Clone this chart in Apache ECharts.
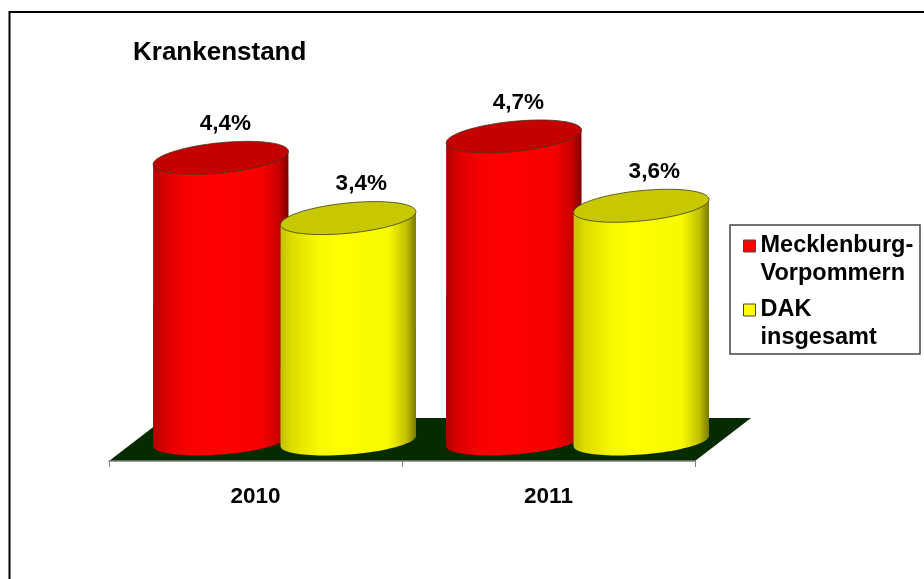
<!DOCTYPE html>
<html><head><meta charset="utf-8">
<style>html,body{margin:0;padding:0;background:#fff}#c{width:924px;height:579px}</style>
<script src="https://cdn.jsdelivr.net/npm/echarts@6/dist/echarts.min.js"></script>
</head><body><div id="c"></div>
<script>
const categories = ['2010', '2011'];
const mvValues = [4.37, 4.70];
const dakValues = [3.44, 3.63];
const seriesNames = ['Mecklenburg-\nVorpommern', 'DAK\ninsgesamt'];
const titleText = 'Krankenstand';

const FONT = '"Liberation Sans", Arial, sans-serif';
const chart = echarts.init(document.getElementById('c'), null, {renderer: 'canvas'});

function ellipseHalf(cx, cy, a, b, deg, start) {
  const th = deg * Math.PI / 180, pts = [];
  const t0 = Math.atan2(b * Math.sin(th), a * Math.cos(th)) + start;
  for (let i = 0; i <= 48; i++) {
    const t = t0 + Math.PI * i / 48;
    pts.push([
      cx + a * Math.cos(t) * Math.cos(th) + b * Math.sin(t) * Math.sin(th),
      cy - a * Math.cos(t) * Math.sin(th) + b * Math.sin(t) * Math.cos(th)
    ]);
  }
  return pts;
}

function cylinderSeries(name, values, opt) {
  return {
    type: 'custom', name, data: values.map((v, i) => [i, v]),
    encode: {x: 0, y: 1}, itemStyle: {color: opt.legend}, z: opt.z,
    renderItem(params, api) {
      const idx = api.value(0), val = api.value(1);
      const band = api.size([1, 0])[0];
      const c = api.coord([idx, val]), base = api.coord([idx, 0]);
      const depth = band * 0.0956;
      const cx = c[0] + depth + band * opt.shift;
      const a = band * 0.232;
      const lower = ellipseHalf(cx, base[1], a, 13.5, 4.5, 0);
      const top1 = ellipseHalf(cx, c[1], a, 15.1, 5.74, 0);
      const top2 = ellipseHalf(cx, c[1], a, 15.1, 5.74, Math.PI);
      const body = lower.concat([top1[48], top1[0]]);
      return {type: 'group', children: [
        {type: 'polygon', shape: {points: body}, style: {
          fill: {type: 'linear', x: 0, y: 0, x2: 1, y2: 0, colorStops: opt.stops},
          stroke: null}},
        {type: 'polygon', shape: {points: top1.concat(top2)},
          style: {fill: opt.top, stroke: '#3a3a20', lineWidth: 0.8}},
        {type: 'text', x: cx + opt.labelDx, y: c[1] - 34, style: {
          text: val.toFixed(1).replace('.', ',') + '%',
          font: 'bold 22.5px ' + FONT, fill: '#000',
          align: 'center', verticalAlign: 'middle'}}
      ]};
    }
  };
}

const floorSeries = {
  type: 'custom', name: 'floor', data: [[0, 0]], encode: {x: 0, y: 1}, z: 1, silent: true,
  renderItem(params) {
    const g = params.coordSys, r = g.x + g.width, b = g.y + g.height;
    const depth = 56, front = b + 20, back = b - 23;
    return {type: 'polygon', shape: {points: [[g.x, front], [r, front], [r + depth, back], [g.x + depth, back]]},
      style: {fill: '#062b00'}};
  }
};

chart.setOption({
  animation: false,
  backgroundColor: '#fff',
  title: {text: titleText, left: 128, top: 35,
    textStyle: {fontFamily: FONT, fontWeight: 'bold', fontSize: 26, color: '#000'}},
  grid: {left: 109, width: 586, top: 117, height: 324, containLabel: false},
  xAxis: {type: 'category', data: categories, offset: 20, z: 5,
    axisLine: {show: true, onZero: false, lineStyle: {color: '#808080', width: 1.5}},
    axisTick: {show: true, length: 6, lineStyle: {color: '#808080', width: 1}},
    axisLabel: {margin: 24, fontFamily: FONT, fontWeight: 'bold', fontSize: 22.5, color: '#000'},
    splitLine: {show: false}},
  yAxis: {type: 'value', min: 0, max: 5, show: false},
  legend: {
    data: seriesNames, left: 743, top: 204, orient: 'vertical',
    padding: 0, itemGap: -20, itemWidth: 12, itemHeight: 12,
    icon: 'rect', itemStyle: {borderColor: '#444', borderWidth: 1},
    selectedMode: false,
    formatter: name => '\n' + name,
    textStyle: {fontFamily: FONT, fontWeight: 'bold', fontSize: 23.5, lineHeight: 28, color: '#000'}
  },
  graphic: [
    {type: 'rect', z: 1, silent: true, shape: {x: 730, y: 225, width: 190, height: 129},
     style: {fill: '#fff', stroke: '#444', lineWidth: 1.5}},
    {type: 'rect', z: 100, silent: true, shape: {x: 9.5, y: 12, width: 1000, height: 700},
     style: {fill: 'none', stroke: '#000', lineWidth: 2}}
  ],
  series: [
    floorSeries,
    cylinderSeries(seriesNames[0], mvValues, {z: 2, shift: -0.214, labelDx: 4.5, legend: '#ff0000', top: '#c40000',
      stops: [{offset: 0, color: '#b00000'}, {offset: 0.08, color: '#d80000'}, {offset: 0.25, color: '#fa0000'},
              {offset: 0.45, color: '#ff0000'}, {offset: 0.8, color: '#f80000'}, {offset: 0.93, color: '#c80000'},
              {offset: 1, color: '#800000'}]}),
    cylinderSeries(seriesNames[1], dakValues, {z: 3, shift: 0.221, labelDx: 13, legend: '#ffff00', top: '#c8c800',
      stops: [{offset: 0, color: '#c0c000'}, {offset: 0.08, color: '#dcdc00'}, {offset: 0.28, color: '#f8f800'},
              {offset: 0.45, color: '#ffff00'}, {offset: 0.8, color: '#f8f800'}, {offset: 0.93, color: '#c0c000'},
              {offset: 1, color: '#787800'}]})
  ]
});
</script></body></html>
